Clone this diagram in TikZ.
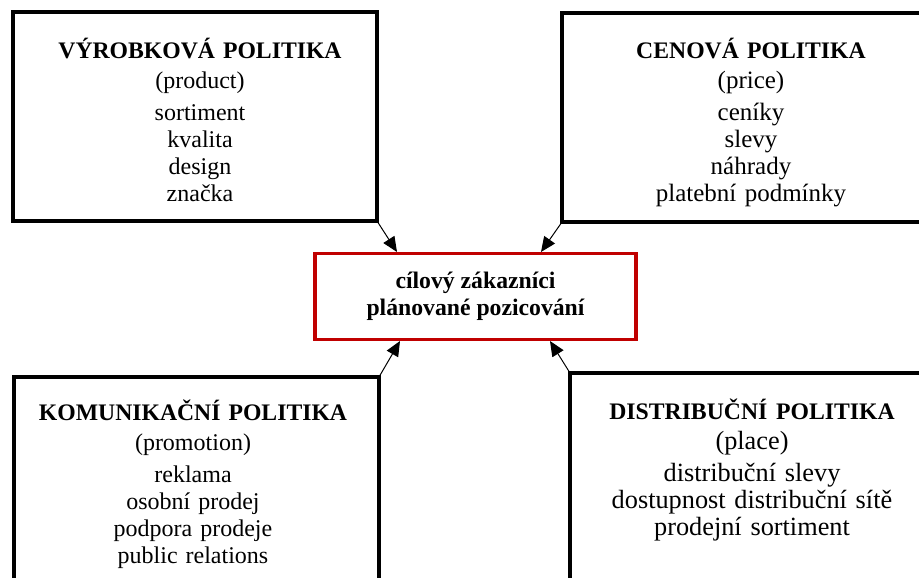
\documentclass[tikz,border=0pt]{standalone}
\usepackage{fontspec}
\setmainfont{Liberation Serif}
\usetikzlibrary{arrows.meta,calc}
\definecolor{goalred}{RGB}{192,0,0}
\newcommand\mytitlefont{\fontsize{23.7}{27}\selectfont\bfseries}
\newcommand\myitemfontL{\fontsize{24}{27}\selectfont}
\newcommand\myitemfontR{\fontsize{25}{27}\selectfont}
\newcommand\myitemfontB{\fontsize{26.3}{27}\selectfont}
\begin{document}
\begin{tikzpicture}[x=1pt,y=-1pt,
  pbox/.style={draw=black,line width=4pt,rectangle,outer sep=0pt,inner sep=0pt},
  goalbox/.style={draw=goalred,line width=3.5pt,rectangle,outer sep=0pt,inner sep=0pt,align=center,font=\mytitlefont},
  txtL/.style={anchor=base,text width=360pt,align=center,inner sep=0pt,font=\myitemfontL},
  txtR/.style={anchor=base,text width=360pt,align=center,inner sep=0pt,font=\myitemfontR},
  txtB/.style={anchor=base,text width=360pt,align=center,inner sep=0pt,font=\myitemfontB},
  conn/.style={line width=1pt,-{Triangle[length=15pt,width=13pt]}}
]
\useasboundingbox (0,0) rectangle (919,578);
\clip (0,0) rectangle (919,578);

% boxes
\node[pbox,minimum width=364pt,minimum height=208.5pt] (prod) at (195,116.75) {};
\node[pbox,minimum width=382pt,minimum height=209pt] (price) at (753,117.5) {};
\node[pbox,minimum width=365pt,minimum height=243pt] (prom) at (196.5,498.5) {};
\node[pbox,minimum width=364pt,minimum height=247pt] (place) at (752,496.5) {};
\node[goalbox,minimum width=321pt,minimum height=86pt] (goal) at (475.5,296.5)
  {cílový zákazníci\\plánované pozicování};

% texts
\node[txtL] (tprod) at (200,59) {{\mytitlefont VÝROBKOVÁ POLITIKA}\\[3pt] (product)\\[5pt] sortiment\\ kvalita\\ design\\ značka};
\node[txtR] (tprice) at (751,59) {{\mytitlefont CENOVÁ POLITIKA}\\[3pt] (price)\\[5pt] ceníky\\ slevy\\ náhrady\\ platební podmínky};
\node[txtL] (tprom) at (193,420) {{\mytitlefont KOMUNIKAČNÍ POLITIKA}\\[3pt] (promotion)\\[5pt] reklama\\ osobní prodej\\ podpora prodeje\\ public relations};
\node[txtB] (tplace) at (752,419) {{\mytitlefont DISTRIBUČNÍ POLITIKA}\\[3pt] (place)\\[5pt] distribuční slevy\\ dostupnost distribuční sítě\\ prodejní sortiment};

% connectors
\draw[conn] (prod.south east) -- ($(goal.north west)+(82,-1.5)$);
\draw[conn] (price.south west) -- ($(goal.north west)+(226,-1.5)$);
\draw[conn] (prom.north east) -- ($(goal.south west)+(85,1.5)$);
\draw[conn] (place.north west) -- ($(goal.south west)+(235,1.5)$);
\end{tikzpicture}
\end{document}
